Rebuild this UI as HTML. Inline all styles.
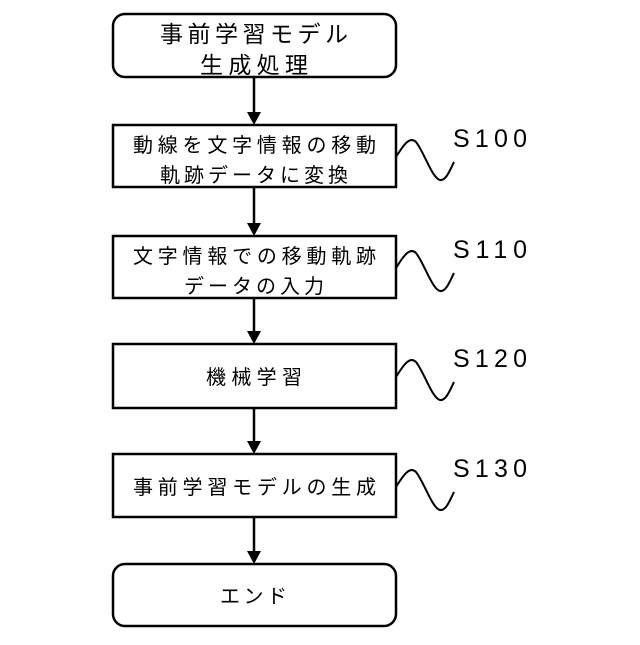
<!DOCTYPE html>
<html><head><meta charset="utf-8"><style>
body{margin:0;background:#fff;}
svg text{font-family:"Liberation Sans","Noto Sans CJK JP",sans-serif;fill:#000;}
</style></head><body>
<svg width="640" height="640" viewBox="0 0 640 640" xmlns="http://www.w3.org/2000/svg">
<g fill="#fff" stroke="#000" stroke-width="2.5">
<rect x="113" y="14" width="283" height="63" rx="12"/>
<rect x="113" y="125" width="283" height="62"/>
<rect x="113" y="236" width="283" height="62"/>
<rect x="113" y="344" width="283" height="64"/>
<rect x="113" y="454" width="283" height="63"/>
<rect x="113" y="564" width="283" height="62" rx="12"/>
</g>
<g stroke="#000" stroke-width="2.5">
<line x1="254" y1="77" x2="254" y2="114"/>
<line x1="254" y1="187" x2="254" y2="225"/>
<line x1="254" y1="298" x2="254" y2="333"/>
<line x1="254" y1="408" x2="254" y2="443"/>
<line x1="254" y1="517" x2="254" y2="553"/>
</g>
<g fill="#000">
<polygon points="247,112 261,112 254,125"/>
<polygon points="247,223 261,223 254,236"/>
<polygon points="247,331 261,331 254,344"/>
<polygon points="247,441 261,441 254,454"/>
<polygon points="247,551 261,551 254,564"/>
</g>
<g fill="none" stroke="#000" stroke-width="2">
<path d="M396,157 C404,144 410,136 416,142 C424,152 432,178 440,180 C446,181 450,170 454,162"/>
<path d="M396,268 C404,255 410,247 416,253 C424,263 432,289 440,291 C446,292 450,281 454,273"/>
<path d="M396,377 C404,364 410,356 416,362 C424,372 432,398 440,400 C446,401 450,390 454,382"/>
<path d="M396,487 C404,474 410,466 416,472 C424,482 432,508 440,510 C446,511 450,500 454,492"/>
</g>
<g font-size="25">
<text x="453" y="147" textLength="74" lengthAdjust="spacing">S100</text>
<text x="453" y="258" textLength="74" lengthAdjust="spacing">S110</text>
<text x="453" y="367" textLength="74" lengthAdjust="spacing">S120</text>
<text x="453" y="477" textLength="74" lengthAdjust="spacing">S130</text>
</g>
<g font-size="23">
<text x="160" y="42" textLength="188" lengthAdjust="spacing">事前学習モデル</text>
<text x="200" y="73" textLength="108" lengthAdjust="spacing">生成処理</text>
</g>
<g font-size="20">
<text x="133" y="152" textLength="243" lengthAdjust="spacing">動線を文字情報の移動</text>
<text x="160" y="182" textLength="188" lengthAdjust="spacing">軌跡データに変換</text>
<text x="133" y="263" textLength="243" lengthAdjust="spacing">文字情報での移動軌跡</text>
<text x="184" y="293" textLength="140" lengthAdjust="spacing">データの入力</text>
<text x="206" y="384" textLength="96" lengthAdjust="spacing">機械学習</text>
<text x="133" y="494" textLength="243" lengthAdjust="spacing">事前学習モデルの生成</text>
<text x="220" y="603" textLength="67" lengthAdjust="spacing">エンド</text>
</g>
</svg>
</body></html>
